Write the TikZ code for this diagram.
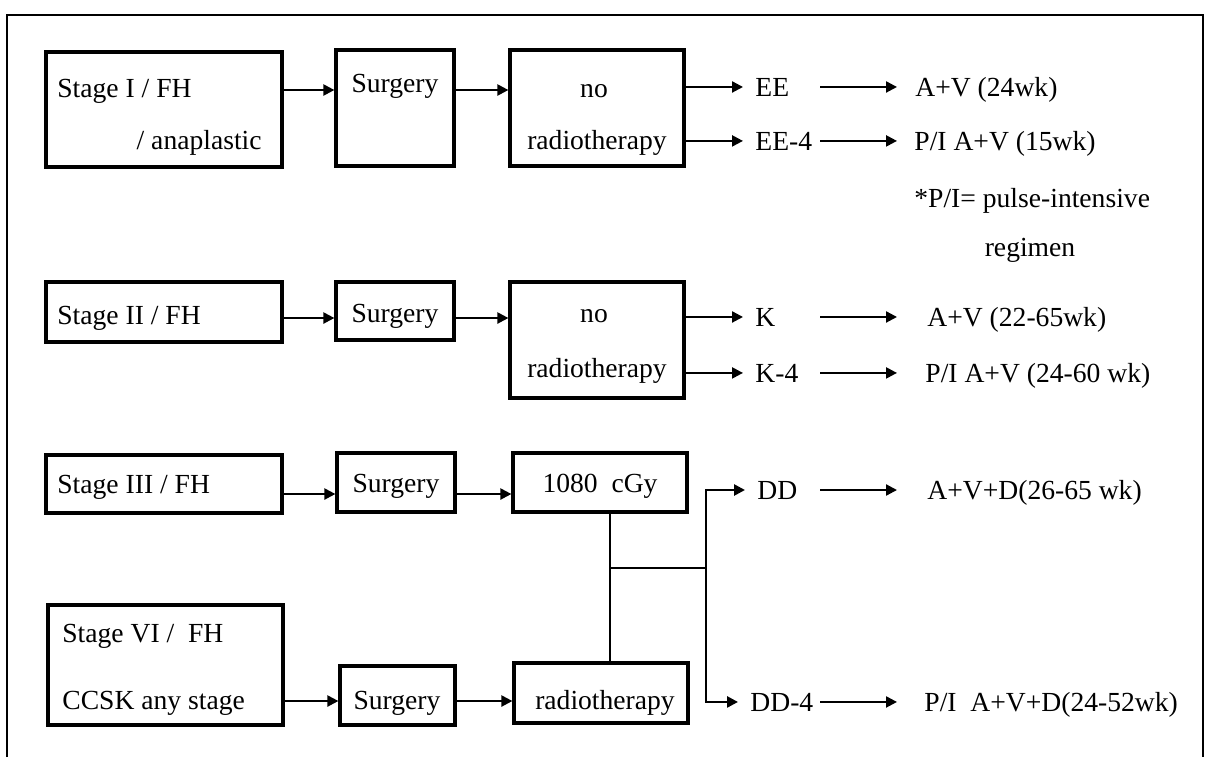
\documentclass[tikz,border=0pt]{standalone}
\usepackage{fontspec}
\setmainfont{Liberation Serif}
\usepackage{tikz}
\usetikzlibrary{positioning,arrows.meta,fit,calc}
\tikzset{
  box/.style={rectangle,draw=black,line width=1.6pt,inner sep=0pt},
  lbl/.style={inner sep=0pt,font=\fontsize{13.8}{16}\selectfont},
  edge/.style={-{Triangle[length=5.5pt,width=5.5pt]},line width=1.1pt},
  link/.style={line width=1.4pt},
  frame/.style={line width=1.4pt}
}

\begin{document}
\begin{tikzpicture}[x=0.5pt,y=-0.5pt]
  \useasboundingbox (0,0) rectangle (1208,757);
  \draw[frame] (7,757) -- (7,15) -- (1203,15) -- (1203,757);
  \coordinate (a1) at (820,0);
  \coordinate (a2) at (897,0);
  % Stage I
  \node[box,fit={(46,52) (282,167)}] (st1) {};
  \node[box,fit={(336,50) (454,166)}] (sg1) {};
  \node[box,fit={(510,50) (684,166)}] (nr1) {};
  \node[lbl,anchor=base west] (st1a) at (57,97) {Stage I / FH};
  \node[lbl,anchor=base east] (st1b) at (262,149) {/ anaplastic};
  \node[lbl,anchor=base] (sg1t) at (395,92) {Surgery};
  \node[lbl,anchor=base] (nr1a) at (594,97) {no};
  \node[lbl,anchor=base] (nr1b) at (597,149) {radiotherapy};
  \node[lbl,anchor=base west] (ee) at (755,96) {EE};
  \node[lbl,anchor=base west] (ee4) at (755,150) {EE-4};
  \node[lbl,anchor=base west] (av1) at (915,96) {A+V (24wk)};
  \node[lbl,anchor=base west] (pav1) at (914,150) {P/I A+V (15wk)};
  \node[lbl,anchor=base west] (note1) at (914,207) {*P/I= pulse-intensive};
  \node[lbl,anchor=base] (note2) at (1030,256) {regimen};
  \coordinate (r1) at (0,90);
  \draw[edge] (st1.east |- r1) -- (sg1.west |- r1);
  \draw[edge] (sg1.east |- r1) -- (nr1.west |- r1);
  \draw[edge] (nr1.east |- ee.west) -- ([xshift=-6pt]ee.west);
  \draw[edge] (nr1.east |- ee4.west) -- ([xshift=-6pt]ee4.west);
  \draw[edge] (ee.west -| a1) -- (ee.west -| a2);
  \draw[edge] (ee4.west -| a1) -- (ee4.west -| a2);
  % Stage II
  \node[box,fit={(46,282) (282,342)}] (st2) {};
  \node[box,fit={(336,282) (454,340)}] (sg2) {};
  \node[box,fit={(510,282) (684,398)}] (nr2) {};
  \node[lbl,anchor=base west] (st2a) at (57,324) {Stage II / FH};
  \node[lbl,anchor=base] (sg2t) at (395,322) {Surgery};
  \node[lbl,anchor=base] (nr2a) at (594,322) {no};
  \node[lbl,anchor=base] (nr2b) at (597,377) {radiotherapy};
  \node[lbl,anchor=base west] (k) at (755,326) {K};
  \node[lbl,anchor=base west] (k4) at (755,382) {K-4};
  \node[lbl,anchor=base west] (av2) at (927,326) {A+V (22-65wk)};
  \node[lbl,anchor=base west] (pav2) at (925,382) {P/I A+V (24-60 wk)};
  \coordinate (r2) at (0,318);
  \draw[edge] (st2.east |- r2) -- (sg2.west |- r2);
  \draw[edge] (sg2.east |- r2) -- (nr2.west |- r2);
  \draw[edge] (nr2.east |- k.west) -- ([xshift=-6pt]k.west);
  \draw[edge] (nr2.east |- k4.west) -- ([xshift=-6pt]k4.west);
  \draw[edge] (k.west -| a1) -- (k.west -| a2);
  \draw[edge] (k4.west -| a1) -- (k4.west -| a2);
  % Stage III
  \node[box,fit={(46,455) (282,513)}] (st3) {};
  \node[box,fit={(337,453) (455,512)}] (sg3) {};
  \node[box,fit={(513,453) (687,512)}] (cg) {};
  \node[lbl,anchor=base west] (st3a) at (57,493) {Stage III / FH};
  \node[lbl,anchor=base] (sg3t) at (396,492) {Surgery};
  \node[lbl,anchor=base] (cgt) at (600,492) {1080\ \ cGy};
  \coordinate (r3) at (0,494);
  \draw[edge] (st3.east |- r3) -- (sg3.west |- r3);
  \draw[edge] (sg3.east |- r3) -- (cg.west |- r3);
  % Stage VI
  \node[box,fit={(48,605) (283,725)}] (st4) {};
  \node[box,fit={(340,666) (455,725)}] (sg4) {};
  \node[box,fit={(514,663) (688,723)}] (rt) {};
  \node[lbl,anchor=base west] (st4a) at (62,642) {Stage VI /\ \ FH};
  \node[lbl,anchor=base west] (st4b) at (62,709) {CCSK any stage};
  \node[lbl,anchor=base] (sg4t) at (397,709) {Surgery};
  \node[lbl,anchor=base] (rtt) at (605,709) {radiotherapy};
  \coordinate (r4) at (0,701);
  \draw[edge] (st4.east |- r4) -- (sg4.west |- r4);
  \draw[edge] (sg4.east |- r4) -- (rt.west |- r4);
  % merge and split
  \node[lbl,anchor=base west] (dd) at (757,499) {DD};
  \node[lbl,anchor=base west] (dd4) at (750,711) {DD-4};
  \node[lbl,anchor=base west] (av3) at (927,499) {A+V+D(26-65 wk)};
  \node[lbl,anchor=base west] (pav3) at (924,711) {P/I\ \ A+V+D(24-52wk)};
  \coordinate (jn) at (610,568);
  \coordinate (sp) at (706,568);
  \draw[link] (cg.south -| jn) -- (rt.north -| jn);
  \draw[link] (jn) -- (sp);
  \draw[edge,line width=1.3pt] (sp) |- ([xshift=-6pt]dd.west);
  \draw[edge,line width=1.3pt] (sp) |- ([xshift=-6pt]dd4.west);
  \draw[edge] (dd.west -| a1) -- (dd.west -| a2);
  \draw[edge] (dd4.west -| a1) -- (dd4.west -| a2);
\end{tikzpicture}
\end{document}
